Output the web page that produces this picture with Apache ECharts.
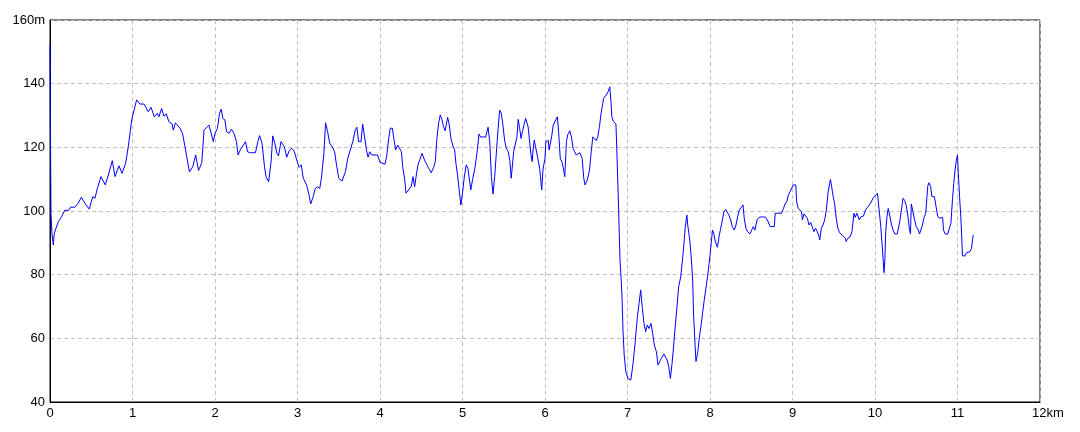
<!DOCTYPE html>
<html>
<head>
<meta charset="utf-8">
<script src="https://cdn.jsdelivr.net/npm/echarts@6/dist/echarts.min.js"></script>
<style>
html,body{margin:0;padding:0;background:#fff;}
#chart{width:1080px;height:432px;}
</style>
</head>
<body>
<div id="chart"></div>
<script>
// distance along track (km)
const distanceKm = [
0.000,0.005,0.012,0.024,0.040,0.052,0.073,0.100,0.140,0.180,0.220,0.250,0.300,0.340,0.380,0.400,0.436,0.477,0.517,0.545,
0.574,0.618,0.670,0.707,0.755,0.788,0.836,0.873,0.917,0.949,0.990,1.050,1.090,1.140,1.190,1.224,1.264,1.300,1.320,1.353,
1.380,1.410,1.440,1.480,1.495,1.520,1.576,1.608,1.636,1.665,1.690,1.730,1.766,1.800,1.840,1.867,1.927,1.980,
2.000,2.030,2.055,2.075,2.095,2.120,2.140,2.170,2.200,2.230,2.260,2.280,2.310,2.345,2.370,2.395,2.430,2.490,2.520,2.540,
2.570,2.600,2.620,2.650,2.680,2.700,2.730,2.750,2.770,2.800,2.840,2.870,2.900,2.930,2.960,2.980,
3.000,3.020,3.045,3.070,3.110,3.140,3.160,3.190,3.215,3.240,3.270,3.290,3.320,3.340,3.365,3.390,3.420,3.450,3.470,3.500,
3.540,3.580,3.610,3.640,3.670,3.700,3.720,3.740,3.770,3.790,3.810,3.840,3.855,3.875,3.900,3.970,
4.000,4.060,4.080,4.105,4.125,4.150,4.170,4.190,4.215,4.235,4.260,4.275,4.300,4.315,4.340,4.360,4.380,4.400,4.420,4.440,
4.460,4.480,4.510,4.540,4.560,4.590,4.620,4.650,4.670,4.690,4.710,4.730,4.750,4.770,4.790,4.820,4.840,4.860,4.880,4.905,
4.920,4.940,4.960,4.980,
5.000,5.020,5.045,5.065,5.085,5.100,5.125,5.150,5.180,5.200,5.220,5.250,5.280,5.310,5.330,5.350,5.370,5.390,5.410,5.430,
5.450,5.470,5.490,5.510,5.530,5.555,5.575,5.590,5.600,5.620,5.640,5.660,5.675,5.690,5.710,5.730,5.750,5.765,5.785,5.795,
5.810,5.830,5.845,5.855,5.870,5.885,5.905,5.935,5.945,5.960,5.975,
6.000,6.010,6.040,6.050,6.080,6.100,6.130,6.150,6.165,6.185,6.210,6.225,6.240,6.260,6.275,6.300,6.320,6.340,6.360,6.380,
6.400,6.420,6.450,6.470,6.485,6.510,6.540,6.560,6.580,6.600,6.620,6.640,6.660,6.680,6.700,6.710,6.740,6.765,6.785,6.800,
6.810,6.830,6.860,6.870,6.885,6.900,6.910,6.925,6.935,6.945,6.960,6.980,
7.005,7.040,7.065,7.090,7.120,7.140,7.160,7.180,7.200,7.220,7.240,7.260,7.285,7.305,7.325,7.350,7.370,7.390,7.410,7.440,
7.460,7.480,7.500,7.520,7.540,7.560,7.580,7.600,7.620,7.645,7.670,7.690,7.700,7.720,7.730,7.755,7.775,7.790,7.800,7.820,
7.830,7.850,7.870,7.890,7.910,7.930,7.950,7.970,
8.000,8.015,8.030,8.045,8.065,8.090,8.110,8.130,8.150,8.170,8.190,8.210,8.230,8.250,8.270,8.295,8.315,8.335,8.355,8.380,
8.400,8.415,8.435,8.455,8.485,8.505,8.525,8.545,8.570,8.595,8.615,8.635,8.655,8.675,8.700,8.730,8.750,8.780,8.790,8.810,
8.830,8.850,8.870,8.890,8.910,8.930,8.950,8.970,8.990,
9.010,9.040,9.050,9.070,9.090,9.110,9.120,9.140,9.160,9.180,9.200,9.220,9.240,9.260,9.280,9.300,9.320,9.330,9.350,9.370,
9.390,9.410,9.430,9.450,9.460,9.475,9.490,9.510,9.530,9.550,9.570,9.600,9.620,9.640,9.650,9.670,9.700,9.720,9.730,9.745,
9.760,9.780,9.800,9.810,9.830,9.860,9.885,9.910,9.940,9.960,9.980,
10.000,10.030,10.040,10.050,10.070,10.085,10.100,10.110,10.120,10.130,10.145,10.160,10.180,10.200,10.220,10.240,10.270,10.300,10.320,10.340,
10.360,10.380,10.400,10.415,10.430,10.440,10.460,10.480,10.500,10.520,10.540,10.560,10.575,10.595,10.615,10.630,10.640,10.655,10.675,10.690,
10.700,10.720,10.730,10.740,10.760,10.780,10.800,10.820,10.830,10.850,10.880,10.900,10.920,10.940,10.955,10.970,10.985,
11.000,11.005,11.010,11.025,11.040,11.050,11.060,11.080,11.090,11.110,11.130,11.150,11.170,11.180,11.190
];
// elevation (m)
const elevationM = [
152,126.5,99,93,89.3,93,94.6,96.6,98.2,100.3,100.1,101.2,101.2,102.4,104.3,104,101.9,100.6,104.5,104,
107.1,110.8,108.2,111.3,115.8,110.8,114.2,111.8,115,120.2,128.6,134.9,133.6,133.6,131.2,132.6,129.6,130.7,129.6,132.2,
129.8,130.5,128.1,127.3,125.4,127.7,126,124.2,120.2,116,112.3,113.9,117.6,112.7,115.2,125.4,127,121.8,
124.4,126,130.7,132,129.1,128.6,124.9,124.4,125.7,124.4,121.8,117.6,119.4,120.7,121.8,118.6,118.3,118.3,121.8,123.7,
121.3,113.9,110.6,109.2,115.5,123.6,120.7,118.1,117.3,121.8,120.2,116.9,119,119.7,118.8,118.3,
115.2,113.7,114.5,110.3,108.2,105,102.2,104.5,107.1,107.6,107.1,110.3,118.1,127.7,124.9,121.3,120.2,118.6,115,110.3,
109.4,112.3,116.6,119.2,121.8,125.4,126.3,121.8,121.8,127.3,127.5,118.6,116.9,118.6,117.6,117.6,
115.3,114.7,117.1,122.8,126,126,122.3,119.2,120.7,120.2,118.6,113.9,109.7,105.6,106.4,106.1,107.8,110.8,107.6,111.3,
114.5,114.8,118.1,116,116.6,113.4,112,113.7,115.5,122.8,127.5,130.2,128.8,126.5,125.2,129.4,127,122.8,120.7,119.2,
115,111.3,106.6,101.9,
105.6,110.3,114.5,113.4,109.7,106.6,110.3,113.4,119.2,124.2,123.2,123.3,123.2,126.3,121.8,110.8,105.3,110.8,118.1,125.4,
131.7,130.7,127,122.3,119.7,118.6,115.5,110.3,112.9,118.6,119.2,123.3,128.8,126.5,122.8,125.4,127.5,129.1,129.6,126.5,
122.8,117.6,115.5,119.2,122.3,120.2,117.6,113.4,110.8,106.6,112.9,
116.6,121.8,122.1,119.2,123.3,127,128.6,129.6,124.9,116.6,115,112.9,110.8,121.8,123.9,125.2,123.3,119.7,118.6,117.6,
118.1,118.3,116.6,110.3,108.2,109.5,112.9,118.6,123.3,123.9,122.1,123.3,126.5,130.7,133.8,135.4,136.4,137.5,139,134.3,
129.6,128.1,127.3,119.7,107.1,93,84.1,77.8,72,62.6,54.8,49.5,
47.4,46.9,51.6,57.9,66.8,71,75.2,69.4,64.7,62.1,64.2,63.1,64.7,61.6,57.9,55.8,51.6,51.1,53.7,55.1,
55.5,53.2,51.1,47.4,52.1,57.9,64.2,69.9,76.2,79.3,85.6,91.4,95,98.7,95.6,90.9,84.6,78.3,67.9,57.4,
52.7,55.3,60,63.7,67.9,72,75.7,79.3,
86,90,94,93,90.4,88.6,92,94.6,97.2,99.8,100.5,100.8,98.7,97.2,95.1,94,95.6,98.2,100.3,101.2,
101.9,97.7,94.6,93.5,92.8,94,95.1,94,97.2,98,97.4,98.2,97.7,98,96.9,95.1,94.6,95.1,99.3,99.8,
99.3,98.7,99.3,100.8,102.2,102.9,105,106.1,106.6,
108.2,108.2,102.9,100.8,101.4,99.8,97.2,99.1,99.3,97.7,95.6,96.4,96.7,93.5,94.6,93.5,92.1,90.9,94.6,95.6,
97.2,100.3,105.6,108.7,109.9,107.6,105,102.4,97.7,94.6,93.2,92.5,92.1,91.4,90.4,91.4,91.9,93.5,95.6,99.3,
98,99.3,98.7,97.2,98.2,98.4,100.3,101.2,102.2,102.4,104.2,
104.7,105.6,105.8,100.3,95.1,89.9,84.1,80.6,85.1,93.5,98.2,100.8,98.4,95.6,94,92.8,92.8,96.7,100.3,104,
103.3,101.6,98.2,94.6,92.8,102.2,99.8,97.2,95.1,94.3,92.8,92.8,95.6,98,99.3,104.5,107.9,108.9,107.6,104.5,
104,104.5,104,101.4,98.4,97.7,97.4,98,94,92.8,92.7,92.8,96.1,104,108.7,112.9,115.8,
117.6,118.1,111.8,104.5,98.2,92.5,85.9,86.5,85.9,86.9,86.7,87.2,88.3,88.8,92.5
];
// axis settings
const xTicks = {min: 0, max: 12, step: 1, unit: 'km'};
const yTicks = {min: 40, max: 160, step: 20, unit: 'm'};

const chart = echarts.init(document.getElementById('chart'), null, {renderer: 'canvas'});
const seriesData = distanceKm.map((d, i) => [d, elevationM[i]]);
const labelFont = {color: '#000', fontFamily: 'Liberation Sans, Arial, sans-serif', fontSize: 13};

chart.setOption({
  animation: false,
  backgroundColor: '#fff',
  grid: {left: 50, right: 40, top: 20, bottom: 30, show: true, borderColor: '#000', borderWidth: 1, containLabel: false},
  xAxis: {
    type: 'value', min: xTicks.min, max: xTicks.max, interval: xTicks.step,
    axisLine: {show: true, lineStyle: {color: '#000', width: 1}},
    axisTick: {show: false},
    splitLine: {show: true, lineStyle: {color: '#c0c0c0', type: [4, 3], width: 1}},
    axisLabel: Object.assign({}, labelFont, {
      margin: 5,
      formatter: v => v === xTicks.max ? '{u|' + v + xTicks.unit + '}' : String(v),
      rich: {u: Object.assign({}, labelFont, {padding: [0, 0, 0, 16]})}
    })
  },
  yAxis: {
    type: 'value', min: yTicks.min, max: yTicks.max, interval: yTicks.step,
    axisLine: {show: true, lineStyle: {color: '#000', width: 1}},
    axisTick: {show: false},
    splitLine: {show: true, lineStyle: {color: '#c0c0c0', type: [4, 3], width: 1}},
    axisLabel: Object.assign({}, labelFont, {
      margin: 5,
      formatter: v => v === yTicks.max ? v + yTicks.unit : String(v)
    })
  },
  series: [{
    type: 'line',
    data: seriesData,
    showSymbol: false,
    lineStyle: {color: '#0000ff', width: 1},
    itemStyle: {color: '#0000ff'},
    silent: true
  }]
});
</script>
</body>
</html>
